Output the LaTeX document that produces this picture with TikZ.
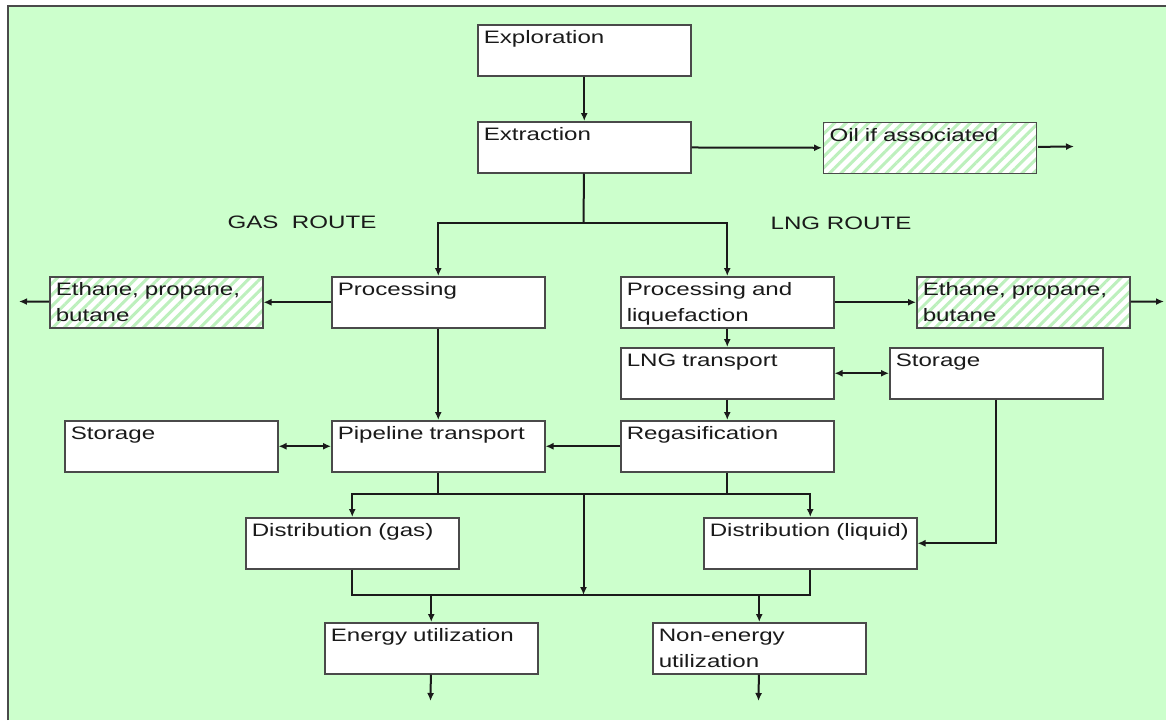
\documentclass[tikz,border=0pt]{standalone}
\usepackage{fontspec}
\setmainfont{Liberation Sans}[FakeStretch=1.34]
\usetikzlibrary{arrows.meta,patterns.meta}
\definecolor{bggreen}{HTML}{CCFFCC}
\definecolor{hatchgreen}{HTML}{BDF0BD}
\definecolor{framegray}{HTML}{4A4A4A}
\definecolor{ink}{HTML}{1A1A1A}
\tikzset{
  basebox/.style={draw=framegray, line width=1.5pt, anchor=north west, text width=201pt, align=left,
    inner xsep=6pt, inner ysep=2pt, text height=17pt, text depth=30pt,
    font=\fontsize{18}{26}\selectfont, text=ink},
  box/.style={basebox, fill=white},
  hatchbox/.style={basebox, preaction={fill=white}, pattern={Lines[angle=45,distance=8pt,line width=3pt]}, pattern color=hatchgreen},
  route/.style={font=\fontsize{18}{22}\selectfont, text=ink},
  link/.style={line width=2pt, draw=ink},
  edge/.style={link, -{Latex[length=8pt,width=7pt]}},
  twoway/.style={link, {Latex[length=8pt,width=7pt]}-{Latex[length=8pt,width=7pt]}}
}
\begin{document}
\begin{tikzpicture}[x=1pt, y=-1pt]
\useasboundingbox (0,0) rectangle (1166,720);
% background and frame
\fill[bggreen] (8,6) rectangle (1166,720);
\draw[framegray, line width=2pt] (8,720) -- (8,6) -- (1166,6);

% boxes
\node[box] (expl) at (477,24) {Exploration};
\node[box] (extr) at (477,121) {Extraction};
\node[hatchbox] (oil) at (822,121) {Oil if associated};
\node[box] (proc) at (331,276) {Processing};
\node[box] (procliq) at (620,276) {Processing and\\liquefaction};
\node[hatchbox] (ethL) at (49,276) {Ethane, propane,\\butane};
\node[hatchbox] (ethR) at (916,276) {Ethane, propane,\\butane};
\node[box] (lngtr) at (620,347) {LNG transport};
\node[box] (storR) at (889,347) {Storage};
\node[box] (storL) at (64,420) {Storage};
\node[box] (pipe) at (331,420) {Pipeline transport};
\node[box] (regas) at (620,420) {Regasification};
\node[box] (distgas) at (245,517) {Distribution (gas)};
\node[box] (distliq) at (703,517) {Distribution (liquid)};
\node[box] (energy) at (324,622) {Energy utilization};
\node[box] (nonen) at (652,622) {Non-energy\\utilization};

\node[route] (gasroute) at (302,222) {GAS~~ROUTE};
\node[route] (lngroute) at (841,223) {LNG ROUTE};

% junctions and free ends
\coordinate (split) at (583.5,223);
\coordinate (hub1) at (583.5,494);
\coordinate (hub2) at (583.5,595);
\coordinate (oilout) at (1074,146.5);
\coordinate (ethLout) at (19,301.5);
\coordinate (ethRout) at (1164,301.5);
\coordinate (energyout) at (430.5,701);
\coordinate (nonenout) at (758.5,701);

\draw[edge] (expl) -- (extr);
\draw[edge] (extr) -- (oil);
\draw[edge] (oil) -- (oilout);
\draw[link] (extr) -- (split);
\draw[edge] (split) -| (proc);
\draw[edge] (split) -| (procliq);
\draw[edge] (proc) -- (ethL);
\draw[edge] (ethL) -- (ethLout);
\draw[edge] (procliq) -- (ethR);
\draw[edge] (ethR) -- (ethRout);
\draw[edge] (procliq) -- (lngtr);
\draw[twoway] (lngtr) -- (storR);
\draw[edge] (lngtr) -- (regas);
\draw[edge] (proc) -- (pipe);
\draw[twoway] (storL) -- (pipe);
\draw[edge] (regas) -- (pipe);
\draw[link] (pipe) |- (hub1);
\draw[link] (regas) |- (hub1);
\draw[edge] (hub1) -| (distgas);
\draw[edge] (hub1) -| (distliq);
\draw[edge] (hub1) -- (hub2);
\draw[edge] (storR) |- (distliq);
\draw[link] (distgas) |- (hub2);
\draw[link] (distliq) |- (hub2);
\draw[edge] (hub2) -| (energy);
\draw[edge] (hub2) -| (nonen);
\draw[edge] (energy) -- (energyout);
\draw[edge] (nonen) -- (nonenout);
\end{tikzpicture}
\end{document}
